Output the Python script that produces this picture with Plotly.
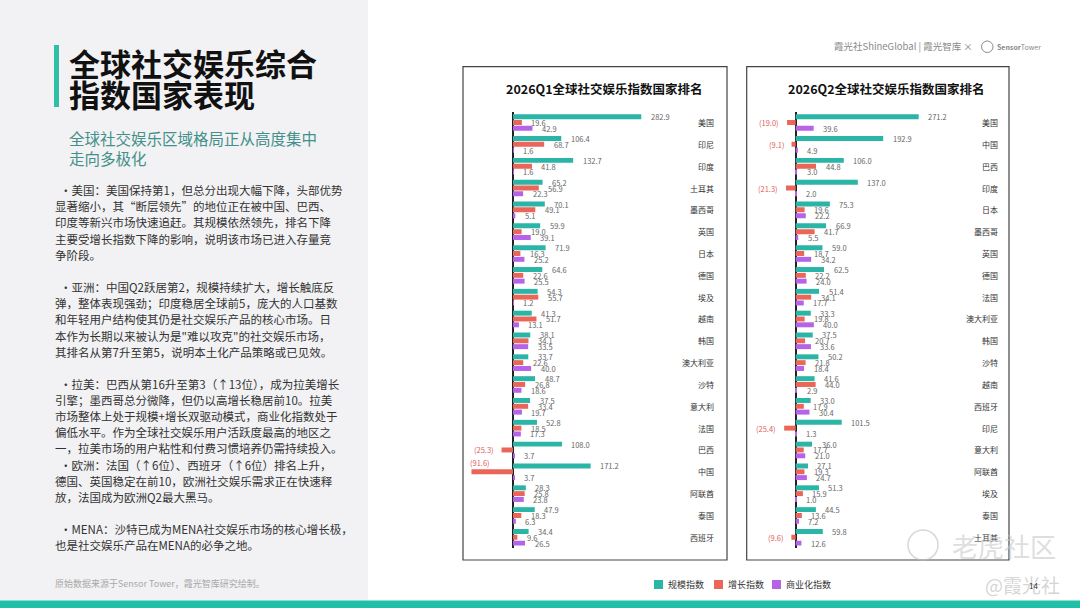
import plotly.graph_objects as go

W, H = 1080, 608
FONT = "Noto Sans CJK SC"

# ---------------- data ----------------
series_names = ["规模指数", "增长指数", "商业化指数"]
series_colors = ["#2bb5a6", "#ea6658", "#b563e8"]

q1_title = "2026Q1全球社交娱乐指数国家排名"
q1_countries = ["美国", "印尼", "印度", "土耳其", "墨西哥", "英国", "日本", "德国", "埃及", "越南",
                "韩国", "澳大利亚", "沙特", "意大利", "法国", "巴西", "中国", "阿联酋", "泰国", "西班牙"]
q1_scale = [282.9, 106.4, 132.7, 65.2, 70.1, 59.9, 71.9, 64.6, 54.3, 41.3,
            38.1, 33.7, 48.7, 37.5, 52.8, 108.0, 171.2, 28.3, 47.9, 34.4]
q1_growth = [19.6, 68.7, 41.8, 56.9, 49.1, 19.0, 16.3, 22.6, 55.7, 51.7,
             34.1, 22.6, 26.8, 33.4, 18.5, -25.3, -91.6, 25.8, 18.3, 9.6]
q1_comm = [42.9, 1.6, 1.6, 22.3, 5.1, 39.1, 25.2, 25.5, 1.2, 13.1,
           33.5, 40.0, 18.6, 19.7, 17.3, 3.7, 3.7, 23.8, 6.3, 26.5]

q2_title = "2026Q2全球社交娱乐指数国家排名"
q2_countries = ["美国", "中国", "巴西", "印度", "日本", "墨西哥", "英国", "德国", "法国", "澳大利亚",
                "韩国", "沙特", "越南", "西班牙", "印尼", "意大利", "阿联酋", "埃及", "泰国", "土耳其"]
q2_scale = [271.2, 192.9, 106.0, 137.0, 75.3, 66.9, 59.0, 62.5, 51.4, 33.3,
            37.5, 50.2, 41.6, 33.0, 101.5, 36.0, 27.1, 51.3, 44.5, 59.8]
q2_growth = [-19.0, -9.1, 44.8, -21.3, 19.6, 41.7, 18.7, 22.2, 34.1, 19.8,
             20.7, 21.8, 44.0, 17.9, -25.4, 17.7, 19.3, 15.9, 13.6, -9.6]
q2_comm = [39.6, 4.9, 3.0, 2.0, 22.2, 5.5, 34.2, 24.0, 17.7, 40.0,
           33.6, 18.4, 2.9, 30.4, 1.3, 21.0, 24.7, 1.0, 7.2, 12.6]

title_lines = ["全球社交娱乐综合", "指数国家表现"]
subtitle_lines = ["全球社交娱乐区域格局正从高度集中", "走向多极化"]
body_paragraphs = [
    ["·美国：美国保持第1，但总分出现大幅下降，头部优势",
     "显著缩小，其“断层领先”的地位正在被中国、巴西、",
     "印度等新兴市场快速追赶。其规模依然领先，排名下降",
     "主要受增长指数下降的影响，说明该市场已进入存量竞",
     "争阶段。"],
    ["·亚洲：中国Q2跃居第2，规模持续扩大，增长触底反",
     "弹，整体表现强劲；印度稳居全球前5，庞大的人口基数",
     "和年轻用户结构使其仍是社交娱乐产品的核心市场。日",
     "本作为长期以来被认为是\"难以攻克\"的社交娱乐市场，",
     "其排名从第7升至第5，说明本土化产品策略或已见效。"],
    ["·拉美：巴西从第16升至第3（↑13位），成为拉美增长",
     "引擎；墨西哥总分微降，但仍以高增长稳居前10。拉美",
     "市场整体上处于规模+增长双驱动模式，商业化指数处于",
     "偏低水平。作为全球社交娱乐用户活跃度最高的地区之",
     "一，拉美市场的用户粘性和付费习惯培养仍需持续投入。",
     "·欧洲：法国（↑6位）、西班牙（↑6位）排名上升，",
     "德国、英国稳定在前10，欧洲社交娱乐需求正在快速释",
     "放，法国成为欧洲Q2最大黑马。"],
    ["·MENA：沙特已成为MENA社交娱乐市场的核心增长极，",
     "也是社交娱乐产品在MENA的必争之地。"],
]
source_text = "原始数据来源于Sensor Tower，霞光智库研究绘制。"
header_text = "霞光社ShineGlobal | 霞光智库 ×"
page_number = "14"

# ---------------- helpers ----------------
def px(x):
    return x / W

def py(y):
    return 1 - y / H

fig = go.Figure()
annotations = []
shapes = []

# backgrounds
shapes.append(dict(type="rect", xref="paper", yref="paper", x0=0, x1=px(368), y0=py(600.5), y1=1,
                   fillcolor="#f2f2f4", line=dict(width=0), layer="below"))
shapes.append(dict(type="rect", xref="paper", yref="paper", x0=0, x1=1, y0=0, y1=py(600.5),
                   fillcolor="#1fbfa8", line=dict(width=0), layer="below"))
shapes.append(dict(type="rect", xref="paper", yref="paper", x0=px(54), x1=px(59), y0=py(107), y1=py(45),
                   fillcolor="#2fbfa6", line=dict(width=0), layer="below"))

# title / subtitle
for i, t in enumerate(title_lines):
    annotations.append(dict(xref="paper", yref="paper", x=px(67), y=py(62 + 31.5 * i), text=t,
                            showarrow=False, xanchor="left", yanchor="middle",
                            font=dict(family=FONT, size=31, color="#111111", weight="bold")))
for i, t in enumerate(subtitle_lines):
    annotations.append(dict(xref="paper", yref="paper", x=px(67), y=py(138 + 20 * i), text=t,
                            showarrow=False, xanchor="left", yanchor="middle",
                            font=dict(family=FONT, size=15.5, color="#43908a")))

# body text
para_starts = [190, 287, 383.5, 528.5]
for p, lines in enumerate(body_paragraphs):
    for j, t in enumerate(lines):
        bullet = t.startswith("·")
        annotations.append(dict(xref="paper", yref="paper", x=px(58 if bullet else 53), y=py(para_starts[p] + 16.2 * j),
                                text=t, showarrow=False, xanchor="left", yanchor="middle",
                                font=dict(family=FONT, size=11.5, color="#333333")))
annotations.append(dict(xref="paper", yref="paper", x=px(53), y=py(583), text=source_text, showarrow=False,
                        xanchor="left", yanchor="middle", font=dict(family=FONT, size=9, color="#a8a8a8")))

# header
annotations.append(dict(xref="paper", yref="paper", x=px(975), y=py(46.5), text=header_text, showarrow=False,
                        xanchor="right", yanchor="middle", font=dict(family=FONT, size=9.5, color="#8a8a8a")))
shapes.append(dict(type="circle", xref="paper", yref="paper", x0=px(981.5), x1=px(993), y0=py(52.5), y1=py(41),
                   line=dict(color="#8a8a8a", width=1)))
annotations.append(dict(xref="paper", yref="paper", x=px(995), y=py(47), text="<b>Sensor</b>Tower", showarrow=False,
                        xanchor="left", yanchor="middle", font=dict(family=FONT, size=7, color="#8a8a8a")))

# ---------------- charts ----------------
S = 0.4535           # px per unit
BARGAP, GROUPGAP = 0.2, 0.15
slot = (1 - BARGAP) / 3
ydom = [1 - 548.2 / H, 1 - 111.6 / H]

charts = [
    dict(title=q1_title, countries=q1_countries, series=[q1_scale, q1_growth, q1_comm],
         xa="x", ya="y", left=468, right=712, zero=513, box=(463, 727), label_x=716),
    dict(title=q2_title, countries=q2_countries, series=[q2_scale, q2_growth, q2_comm],
         xa="x2", ya="y2", left=751, right=995, zero=795.7, box=(746.7, 1009), label_x=1000),
]

layout_axes = {}
for c in charts:
    n = len(c["countries"])
    xmin = -(c["zero"] - c["left"]) / S
    xmax = (c["right"] - c["zero"]) / S
    for k, vals in enumerate(c["series"]):
        fig.add_trace(go.Bar(orientation="h", x=vals, y=c["countries"], name=series_names[k],
                             marker=dict(color=series_colors[k], line=dict(width=0)),
                             xaxis=c["xa"], yaxis=c["ya"], showlegend=False, hoverinfo="skip"))
        off = (k - 1) * slot
        for i, v in enumerate(vals):
            common = dict(xref=c["xa"], yref=c["ya"], showarrow=False, yanchor="middle")
            if v >= 0:
                annotations.append(dict(x=v, y=i + off, text=f"{v:.1f}", xanchor="left", xshift=7.5,
                                        font=dict(family=FONT, size=7.5, color="#666666"), **common))
            else:
                txt = f"({abs(v):.1f})"
                fnt = dict(family=FONT, size=7.5, color="#e0605a")
                # label would leave the frame: put it above the bar at the left edge
                if (c["zero"] - c["left"]) + v * S - 30 < -3:
                    annotations.append(dict(x=xmin, y=i + off, text=txt, xanchor="left", yshift=9,
                                            font=fnt, **common))
                else:
                    annotations.append(dict(x=v, y=i + off, text=txt, xanchor="right", xshift=-6,
                                            font=fnt, **common))
    # category labels
    for i, name in enumerate(c["countries"]):
        annotations.append(dict(xref="paper", yref=c["ya"], x=px(c["label_x"]), y=i, text=name,
                                showarrow=False, xanchor="right", yanchor="middle",
                                font=dict(family=FONT, size=8, color="#333333")))
    # frame
    shapes.append(dict(type="rect", xref="paper", yref="paper", x0=px(c["box"][0]), x1=px(c["box"][1]),
                       y0=py(560), y1=py(66.7), line=dict(color="#444444", width=1.2), fillcolor="rgba(0,0,0,0)"))
    # chart title
    annotations.append(dict(xref="paper", yref="paper", x=px((c["box"][0] + c["box"][1]) / 2 + 9), y=py(88.3),
                            text=c["title"], showarrow=False, xanchor="center", yanchor="middle",
                            font=dict(family=FONT, size=12.5, color="#111111", weight="bold")))
    xkey = "xaxis" if c["xa"] == "x" else "xaxis2"
    ykey = "yaxis" if c["ya"] == "y" else "yaxis2"
    layout_axes[xkey] = dict(domain=[px(c["left"]), px(c["right"])], range=[xmin, xmax], anchor=c["ya"],
                             showgrid=False, showticklabels=False, showline=False, ticks="",
                             zeroline=True, zerolinecolor="#222222", zerolinewidth=1.5, fixedrange=True)
    layout_axes[ykey] = dict(domain=ydom, type="category", categoryorder="array", categoryarray=c["countries"],
                             range=[n - 0.5, -0.5], anchor=c["xa"], showgrid=False, showticklabels=False,
                             showline=False, ticks="", zeroline=False, fixedrange=True)

# legend (custom)
legend_x = [654, 714, 772]
for k, name in enumerate(series_names):
    shapes.append(dict(type="rect", xref="paper", yref="paper", x0=px(legend_x[k]), x1=px(legend_x[k] + 9),
                       y0=py(589), y1=py(580), fillcolor=series_colors[k], line=dict(width=0)))
    annotations.append(dict(xref="paper", yref="paper", x=px(legend_x[k] + 12), y=py(584.5), text=name,
                            showarrow=False, xanchor="left", yanchor="middle",
                            font=dict(family=FONT, size=9, color="#333333")))

# watermarks and page number
shapes.append(dict(type="circle", xref="paper", yref="paper", x0=px(908), x1=px(938), y0=py(560), y1=py(530),
                   line=dict(color="rgba(190,190,190,0.6)", width=1.5)))
annotations.append(dict(xref="paper", yref="paper", x=px(1004), y=py(545), text="老虎社区", showarrow=False,
                        xanchor="center", yanchor="middle",
                        font=dict(family=FONT, size=26, color="rgba(200,200,200,0.6)")))
annotations.append(dict(xref="paper", yref="paper", x=px(1022), y=py(584), text="@霞光社", showarrow=False,
                        xanchor="center", yanchor="middle",
                        font=dict(family=FONT, size=19, color="rgba(195,195,195,0.7)")))
annotations.append(dict(xref="paper", yref="paper", x=px(1033), y=py(585), text=page_number, showarrow=False,
                        xanchor="center", yanchor="middle", font=dict(family=FONT, size=8, color="#333333")))

fig.update_layout(
    width=W, height=H, autosize=False,
    margin=dict(l=0, r=0, t=0, b=0),
    paper_bgcolor="white", plot_bgcolor="rgba(0,0,0,0)",
    barmode="group", bargap=BARGAP, bargroupgap=GROUPGAP,
    showlegend=False,
    font=dict(family=FONT),
    annotations=annotations, shapes=shapes,
    **layout_axes,
)

fig.write_html("out.html", config={"displayModeBar": False},
               post_script="document.body.style.margin='0px';document.body.style.padding='0px';"
                           "document.body.style.overflow='hidden';")
